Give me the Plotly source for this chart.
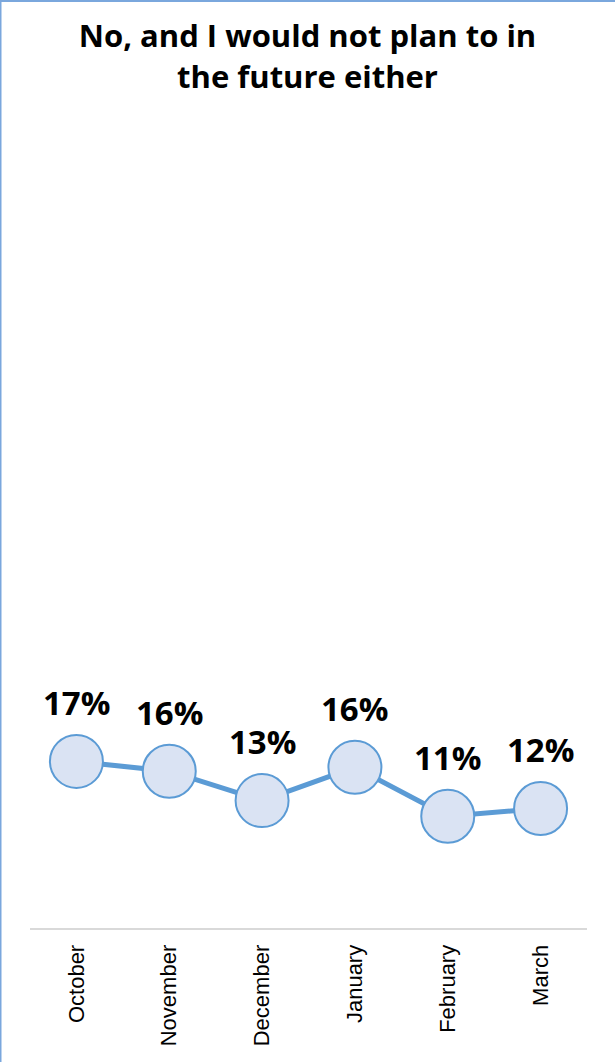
import plotly.graph_objects as go

months = ["October", "November", "December", "January", "February", "March"]
values = [17.0, 16.0, 13.0, 16.4, 11.4, 12.2]
labels = [f"{round(v)}%" for v in values]
title_text = "No, and I would not plan to in<br>the future either"

LINE = "#5b9bd5"
FILL = "#dae3f3"
FONT = "Open Sans"

fig = go.Figure()
fig.add_trace(go.Scatter(
    x=months, y=values, mode="lines+markers",
    line=dict(color=LINE, width=5),
    marker=dict(size=53, color=FILL, line=dict(color=LINE, width=2)),
    hoverinfo="skip", showlegend=False,
))

for m, v, t in zip(months, values, labels):
    fig.add_annotation(x=m, y=v, text=t, showarrow=False,
                       yshift=59, font=dict(family=FONT, size=33, color="#000000", weight=700))

fig.update_layout(
    width=615, height=1062,
    margin=dict(l=30, r=28, t=144, b=134),
    paper_bgcolor="white", plot_bgcolor="white",
    title=dict(text=title_text, x=0.5, xanchor="center", y=0.9555, yanchor="middle",
               font=dict(family=FONT, size=31, color="#000000", weight=700)),
    xaxis=dict(type="category", range=[-0.5, 5.5], showgrid=False, zeroline=False,
               showline=True, linecolor="#d9d9d9", linewidth=2, ticks="",
               ticklabelstandoff=6,
               tickangle=-90, tickfont=dict(family="Liberation Sans", size=22, color="#000000")),
    yaxis=dict(range=[0, 80], showgrid=False, zeroline=False, showline=False,
               showticklabels=False, ticks=""),
    shapes=[
        dict(type="line", xref="paper", yref="paper", x0=-30/557, x1=-30/557, y0=-1, y1=2,
             line=dict(color="#7aa7dd", width=3)),
        dict(type="line", xref="paper", yref="paper", x0=-1, x1=2, y0=1 + 143/784, y1=1 + 143/784,
             line=dict(color="#7aa7dd", width=2)),
    ],
)

fig.write_html("out.html")
